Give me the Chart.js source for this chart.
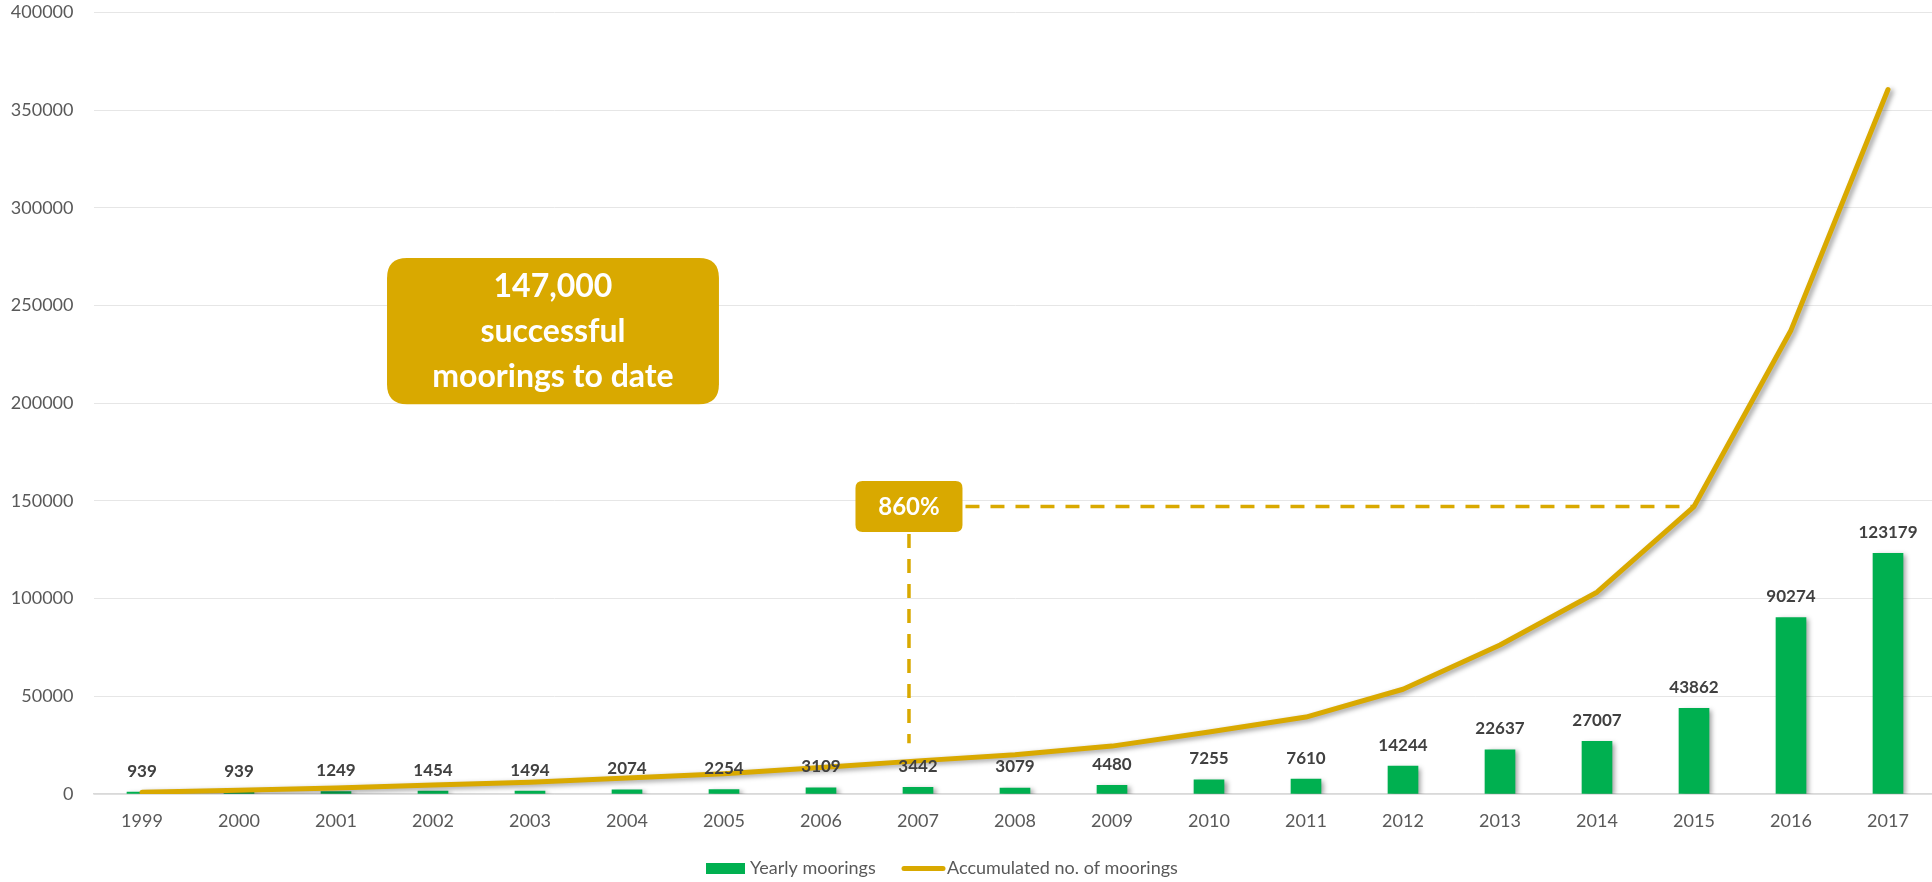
<!DOCTYPE html>
<html>
<head>
<meta charset="utf-8">
<script src="https://cdn.jsdelivr.net/npm/chart.js@4"></script>
<style>
  html, body { margin: 0; padding: 0; background: #ffffff; overflow: hidden; }
  #wrap { width: 1940px; height: 882px; }
</style>
</head>
<body>
<div id="wrap"><canvas id="c" width="1940" height="882"></canvas></div>
<script>
// ---------------- data ----------------
const years = ['1999','2000','2001','2002','2003','2004','2005','2006','2007','2008','2009','2010','2011','2012','2013','2014','2015','2016','2017'];
const yearlyMoorings = [939, 939, 1249, 1454, 1494, 2074, 2254, 3109, 3442, 3079, 4480, 7255, 7610, 14244, 22637, 27007, 43862, 90274, 123179];
const accumulatedMoorings = [939, 1878, 3127, 4581, 6075, 8149, 10403, 13512, 16954, 20033, 24513, 31768, 39378, 53622, 76259, 103266, 147128, 237402, 360581];
const yTickMin = 0;
const yTickMax = 400000;
const yTickStep = 50000;
const seriesNames = ['Yearly moorings', 'Accumulated no. of moorings'];
const calloutLines = ['147,000', 'successful', 'moorings to date'];
const percentLabel = '860%';
// annotation anchors (in data coordinates)
const growthFromIndex = 7.907;   // near 2007
const growthToIndex = 16;        // 2015
const growthValue = 147128;
const growthVerticalBottom = 26000;
const calloutBox = { x0: 2.526, x1: 5.948, yTop: 274400, yBottom: 199500 };

// ---------------- styles ----------------
const GOLD = '#D9A900';
const GREEN = '#00B050';
const FONT = 'Lato, "Open Sans", sans-serif';

function roundRect(ctx, x, y, w, h, r) {
  ctx.beginPath();
  ctx.moveTo(x + r, y);
  ctx.lineTo(x + w - r, y);
  ctx.quadraticCurveTo(x + w, y, x + w, y + r);
  ctx.lineTo(x + w, y + h - r);
  ctx.quadraticCurveTo(x + w, y + h, x + w - r, y + h);
  ctx.lineTo(x + r, y + h);
  ctx.quadraticCurveTo(x, y + h, x, y + h - r);
  ctx.lineTo(x, y + r);
  ctx.quadraticCurveTo(x, y, x + r, y);
  ctx.closePath();
}

const shadowPlugin = {
  id: 'shadow',
  beforeDatasetDraw(chart) {
    const ctx = chart.ctx;
    ctx.save();
    ctx.shadowColor = 'rgba(0,0,0,0.38)';
    ctx.shadowBlur = 5;
    ctx.shadowOffsetX = 3;
    ctx.shadowOffsetY = 2;
  },
  afterDatasetDraw(chart) {
    chart.ctx.restore();
  }
};

const annotationPlugin = {
  id: 'annotations',
  afterDatasetsDraw(chart) {
    const ctx = chart.ctx;
    const xs = chart.scales.x, ys = chart.scales.y;
    const gx = xs.getPixelForValue(growthFromIndex);
    const gx2 = xs.getPixelForValue(growthToIndex);
    const gy = ys.getPixelForValue(growthValue);
    const boxW = 107, boxH = 51;
    ctx.save();
    ctx.strokeStyle = GOLD;
    ctx.lineWidth = 3.5;
    ctx.setLineDash([14, 11]);
    ctx.beginPath();
    ctx.moveTo(gx + boxW / 2 + 3, gy);
    ctx.lineTo(gx2, gy);
    ctx.stroke();
    ctx.beginPath();
    ctx.moveTo(gx, gy + boxH / 2 + 2);
    ctx.lineTo(gx, ys.getPixelForValue(growthVerticalBottom));
    ctx.stroke();
    ctx.setLineDash([]);
    ctx.fillStyle = GOLD;
    roundRect(ctx, gx - boxW / 2, gy - boxH / 2, boxW, boxH, 7);
    ctx.fill();
    ctx.fillStyle = '#ffffff';
    ctx.font = 'bold 24px ' + FONT;
    ctx.textAlign = 'center';
    ctx.textBaseline = 'middle';
    ctx.fillText(percentLabel, gx, gy + 1);
    const bx0 = xs.getPixelForValue(calloutBox.x0);
    const bx1 = xs.getPixelForValue(calloutBox.x1);
    const by0 = ys.getPixelForValue(calloutBox.yTop);
    const by1 = ys.getPixelForValue(calloutBox.yBottom);
    ctx.fillStyle = GOLD;
    roundRect(ctx, bx0, by0, bx1 - bx0, by1 - by0, 20);
    ctx.fill();
    ctx.fillStyle = '#ffffff';
    ctx.font = 'bold 32px ' + FONT;
    const cx = (bx0 + bx1) / 2, cy = (by0 + by1) / 2;
    calloutLines.forEach((t, i) => {
      ctx.fillText(t, cx, cy + (i - 1) * 45 + 1);
    });
    ctx.restore();
  }
};

const labelPlugin = {
  id: 'barLabels',
  afterDraw(chart) {
    const ctx = chart.ctx;
    const meta = chart.getDatasetMeta(0);
    ctx.save();
    ctx.fillStyle = '#404040';
    ctx.font = 'bold 17px ' + FONT;
    ctx.textAlign = 'center';
    ctx.textBaseline = 'middle';
    meta.data.forEach((bar, i) => {
      ctx.fillText(String(yearlyMoorings[i]), bar.x, bar.y - 21);
    });
    ctx.restore();
  }
};

const legendPlugin = {
  id: 'customLegend',
  afterDraw(chart) {
    const ctx = chart.ctx;
    ctx.save();
    ctx.font = '18px ' + FONT;
    ctx.textBaseline = 'middle';
    ctx.textAlign = 'left';
    const y = 868.5;
    let x = 706;
    ctx.fillStyle = GREEN;
    ctx.fillRect(x, y - 5.5, 39, 11);
    x += 44;
    ctx.fillStyle = '#595959';
    ctx.fillText(seriesNames[0], x, y);
    x = 902;
    ctx.strokeStyle = GOLD;
    ctx.lineWidth = 5;
    ctx.lineCap = 'round';
    ctx.beginPath();
    ctx.moveTo(x + 2, y);
    ctx.lineTo(x + 41, y);
    ctx.stroke();
    x += 45;
    ctx.fillText(seriesNames[1], x, y);
    ctx.restore();
  }
};

new Chart(document.getElementById('c'), {
  data: {
    labels: years,
    datasets: [
      {
        type: 'bar',
        label: seriesNames[0],
        data: yearlyMoorings,
        backgroundColor: GREEN,
        borderWidth: 0,
        barThickness: 30,
        order: 1
      },
      {
        type: 'line',
        label: seriesNames[1],
        data: accumulatedMoorings,
        borderColor: GOLD,
        backgroundColor: GOLD,
        borderWidth: 5,
        pointRadius: 0,
        tension: 0,
        borderCapStyle: 'round',
        borderJoinStyle: 'round',
        order: 0
      }
    ]
  },
  options: {
    responsive: false,
    animation: false,
    layout: { padding: { top: 12.5, right: 3.5, bottom: 0, left: 0 } },
    plugins: {
      legend: { display: false },
      tooltip: { enabled: false }
    },
    scales: {
      x: {
        grid: { display: false, drawTicks: false },
        border: { display: true, color: '#d9d9d9', width: 1.5 },
        ticks: { color: '#595959', font: { family: FONT, size: 18 }, padding: 16, maxRotation: 0, autoSkip: false },
        afterFit(scale) { scale.height = 88; }
      },
      y: {
        min: yTickMin,
        max: yTickMax,
        grid: { color: '#e6e6e6', lineWidth: 1, drawTicks: false },
        border: { display: false },
        ticks: {
          stepSize: yTickStep,
          color: '#595959',
          font: { family: FONT, size: 18 },
          padding: 20,
          callback: v => String(v)
        },
        afterFit(scale) {
          scale.width = 93.5;
          scale.paddingTop = 0;
          scale.paddingBottom = 0;
        }
      }
    }
  },
  plugins: [shadowPlugin, annotationPlugin, labelPlugin, legendPlugin]
});
</script>
</body>
</html>
